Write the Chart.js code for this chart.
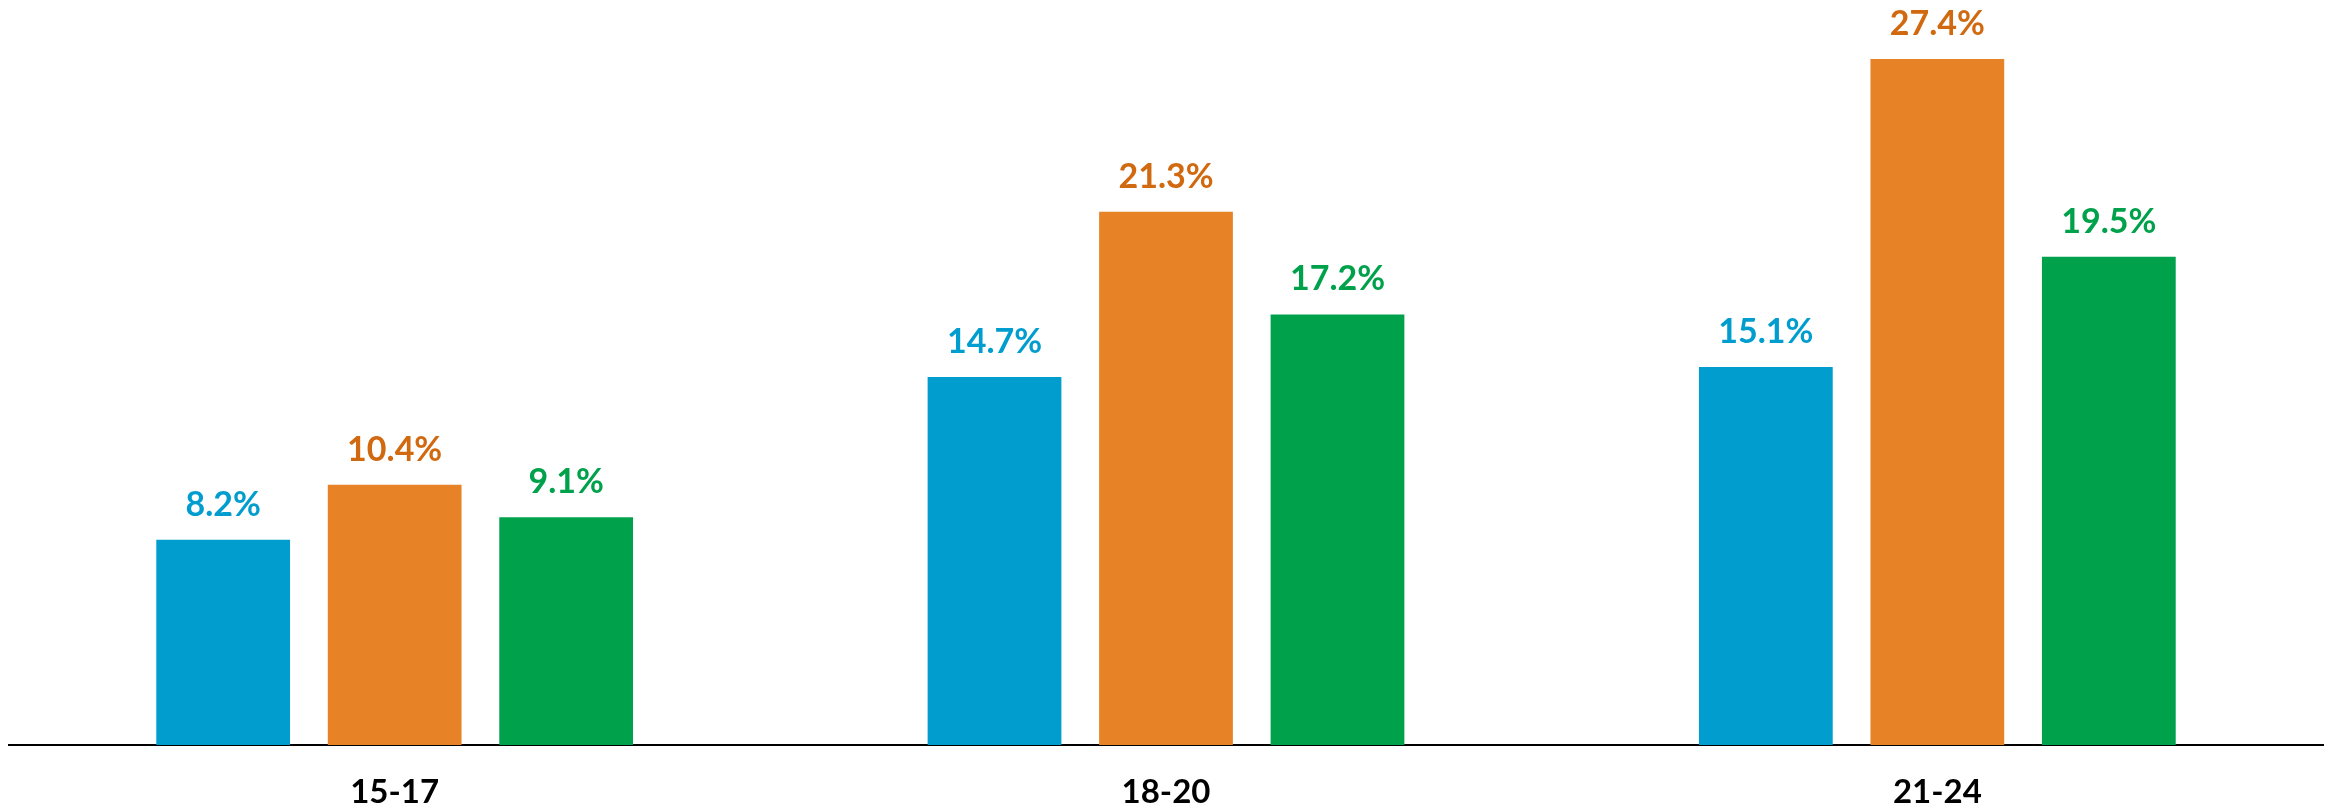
<!DOCTYPE html>
<html>
<head>
<meta charset="utf-8">
<script src="https://cdn.jsdelivr.net/npm/chart.js@4"></script>
<style>
  html, body { margin: 0; padding: 0; background: #fff; }
  #wrap { width: 2336px; height: 809px; position: relative; }
</style>
</head>
<body>
<div id="wrap"><canvas id="ageChart"></canvas></div>
<script>
var categories = ["15-17", "18-20", "21-24"];
var series1 = [8.2, 14.7, 15.1];
var series2 = [10.4, 21.3, 27.4];
var series3 = [9.1, 17.2, 19.5];

var barColors = ['#009DCE', '#E88226', '#00A14B'];
var labelColors = ['#009DCE', '#D0690F', '#00A14B'];

// draws the value labels above each bar
var valueLabels = {
    id: 'valueLabels',
    afterDatasetsDraw: function(chart) {
        var ctx = chart.ctx;
        ctx.save();
        ctx.font = 'bold 34px Lato';
        ctx.textAlign = 'center';
        ctx.textBaseline = 'middle';
        chart.data.datasets.forEach(function(ds, i) {
            var meta = chart.getDatasetMeta(i);
            ctx.fillStyle = labelColors[i];
            meta.data.forEach(function(bar, j) {
                ctx.fillText(ds.data[j].toFixed(1) + '%', bar.x, bar.y - 35);
            });
        });
        ctx.restore();
    }
};

var ctx = document.getElementById('ageChart').getContext('2d');
var chart = new Chart(ctx, {
    type: 'bar',
    data: {
        labels: categories,
        datasets: [
            { label: 'Series 1', data: series1, backgroundColor: barColors[0] },
            { label: 'Series 2', data: series2, backgroundColor: barColors[1] },
            { label: 'Series 3', data: series3, backgroundColor: barColors[2] }
        ]
    },
    options: {
        responsive: true,
        maintainAspectRatio: false,
        animation: false,
        layout: { padding: { left: 9, right: 13, top: 19, bottom: 0 } },
        datasets: {
            bar: { categoryPercentage: 0.667, barPercentage: 0.78 }
        },
        plugins: {
            legend: { display: false },
            tooltip: { enabled: false }
        },
        scales: {
            x: {
                grid: { display: false, drawTicks: false },
                border: { display: true, color: '#000', width: 2 },
                ticks: {
                    color: '#000',
                    padding: 31,
                    font: { family: 'Lato', size: 33, weight: 'bold', lineHeight: 1 }
                },
                afterFit: function(scale) { scale.height = 64; }
            },
            y: {
                display: false,
                min: 0,
                max: 29
            }
        }
    },
    plugins: [valueLabels]
});
</script>
</body>
</html>
